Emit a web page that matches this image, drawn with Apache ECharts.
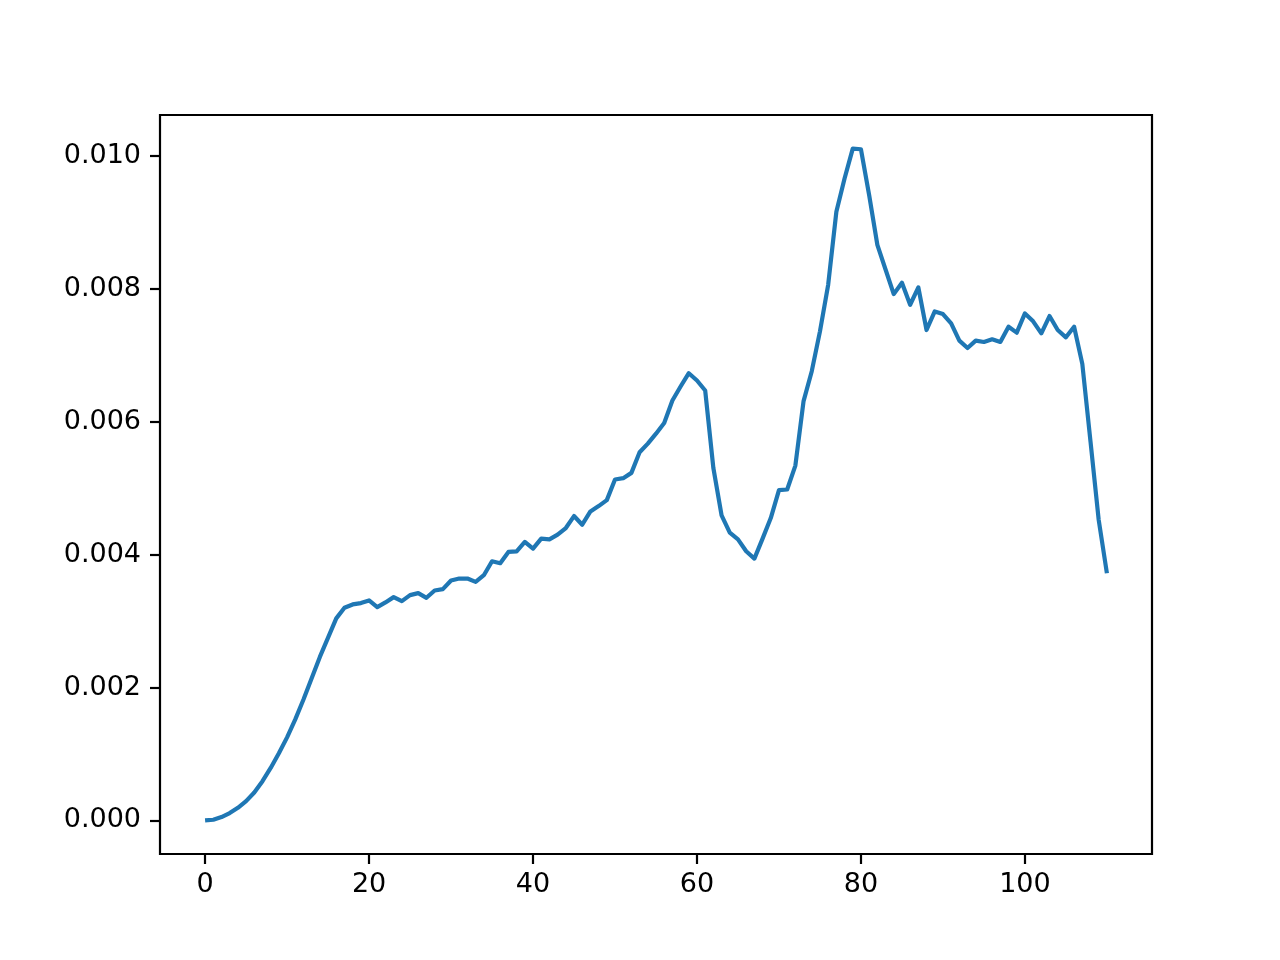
<!DOCTYPE html>
<html>
<head>
<meta charset="utf-8">
<title>line</title>
<script src="https://cdn.jsdelivr.net/npm/echarts@6/dist/echarts.min.js"></script>
<style>
  html, body { margin: 0; padding: 0; background: #fff; }
  #chart { width: 1280px; height: 960px; }
</style>
</head>
<body>
<div id="chart"></div>
<script>
// values, one per step 0..110
const seriesValues = [
  0, 0.00001, 0.00005, 0.00011, 0.00019, 0.00029, 0.00042, 0.00059, 0.00079, 0.00101,
  0.00125, 0.00152, 0.00182, 0.00214, 0.00246, 0.00275, 0.00304, 0.0032, 0.00325, 0.00327,
  0.00331, 0.00321, 0.00328, 0.00336, 0.0033, 0.00339, 0.00342, 0.00335, 0.00346, 0.00348,
  0.00361, 0.00364, 0.00364, 0.00359, 0.00369, 0.0039, 0.00387, 0.00404, 0.00405, 0.00419,
  0.00409, 0.00424, 0.00423, 0.0043, 0.0044, 0.00458, 0.00445, 0.00465, 0.00473, 0.00482,
  0.00513, 0.00515, 0.00523, 0.00554, 0.00567, 0.00582, 0.00598, 0.00632, 0.00653, 0.00673,
  0.00662, 0.00647, 0.0053, 0.00459, 0.00433, 0.00423, 0.00405, 0.00394, 0.00424, 0.00455,
  0.00497, 0.00498, 0.00534, 0.00631, 0.00676, 0.00736, 0.00806, 0.00916, 0.00966, 0.01011,
  0.0101, 0.00941, 0.00866, 0.00829, 0.00792, 0.00809, 0.00776, 0.00802, 0.00738, 0.00766,
  0.00762, 0.00748, 0.00722, 0.00711, 0.00722, 0.0072, 0.00724, 0.0072, 0.00743, 0.00734,
  0.00763, 0.00751, 0.00733, 0.00759, 0.00738, 0.00727, 0.00743, 0.00687, 0.0057, 0.00452,
  0.00372
];
const xTicks = [0, 20, 40, 60, 80, 100];
const yTicks = [0, 0.002, 0.004, 0.006, 0.008, 0.010];

// matplotlib style 5% margins
const lastX = seriesValues.length - 1;
const yMax = Math.max(...seriesValues);
const xPad = lastX * 0.05;
const yPad = yMax * 0.05;

const lineData = seriesValues.map((v, i) => [i, v]);

const font = 'DejaVu Sans';
const tickStyle = { color: '#000', width: 2.2 };

let myChart = echarts.init(document.getElementById('chart'));
myChart.setOption({
  animation: false,
  grid: {
    left: 160, right: 128, top: 115, bottom: 106,
    show: true,
    borderColor: '#000',
    borderWidth: 2.2,
    backgroundColor: '#fff'
  },
  xAxis: {
    type: 'value',
    min: -xPad,
    max: lastX + xPad,
    splitLine: { show: false },
    axisLine: { show: false, onZero: false },
    axisTick: { show: true, length: 10, lineStyle: tickStyle, customValues: xTicks },
    axisLabel: {
      customValues: xTicks,
      margin: 17,
      fontFamily: font,
      fontSize: 27,
      color: '#000'
    }
  },
  yAxis: {
    type: 'value',
    min: -yPad,
    max: yMax + yPad,
    splitLine: { show: false },
    axisLine: { show: false, onZero: false },
    axisTick: { show: true, length: 10, lineStyle: tickStyle, customValues: yTicks },
    axisLabel: {
      customValues: yTicks,
      margin: 19,
      fontFamily: font,
      fontSize: 27,
      color: '#000',
      formatter: (v) => v.toFixed(3)
    }
  },
  series: [{
    type: 'line',
    data: lineData,
    showSymbol: false,
    lineStyle: { color: '#1f77b4', width: 4.2, join: 'round' },
    z: 3
  }]
});
</script>
</body>
</html>
